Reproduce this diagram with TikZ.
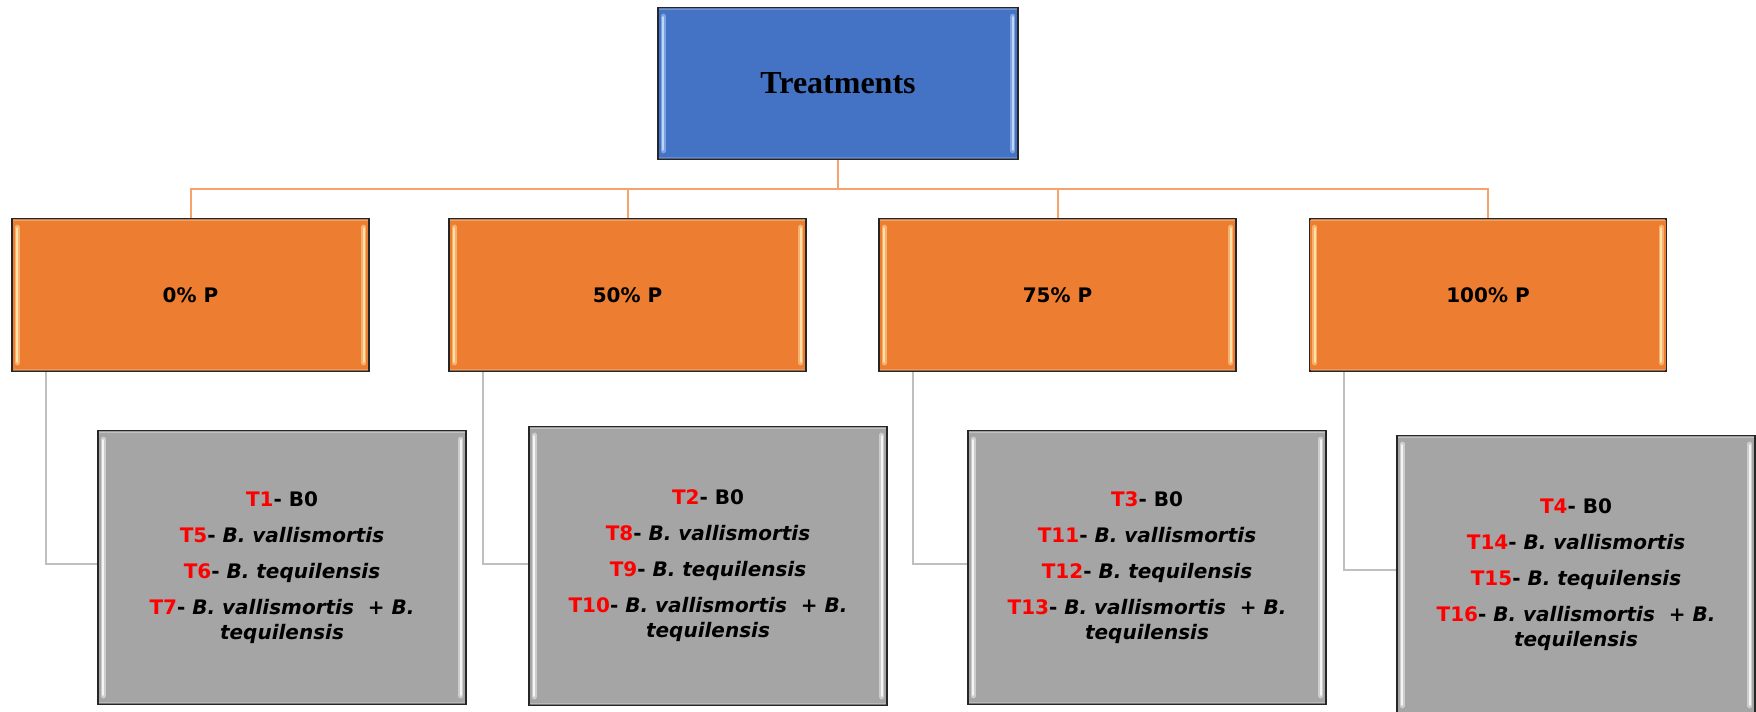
\documentclass[tikz,border=0pt]{standalone}
\usepackage{fontspec}
\setmainfont{DejaVu Sans}[BoldFont={DejaVu Sans Bold},ItalicFont={DejaVu Sans Oblique},BoldItalicFont={DejaVu Sans Bold Oblique}]
\newfontfamily\serifb{Liberation Serif}
\usetikzlibrary{calc}
\definecolor{blueF}{HTML}{4472C4}
\definecolor{orangeF}{HTML}{ED7D31}
\definecolor{grayF}{HTML}{A5A5A5}
\definecolor{blueH}{HTML}{BCD6F7}
\definecolor{blueM}{HTML}{7FA3E0}
\definecolor{orangeH}{HTML}{FFE2A6}
\definecolor{orangeM}{HTML}{F6B070}
\definecolor{grayH}{HTML}{F4F4F4}
\definecolor{grayM}{HTML}{CDCDCD}
\definecolor{oline}{HTML}{F4A36C}
\definecolor{gline}{HTML}{BFBFBF}
\definecolor{tred}{HTML}{FF0000}
\newcommand\tr[1]{\textcolor{tred}{#1}}
\newcommand\bevelbox[3]{%
  \draw[line width=1pt,#3,opacity=0.7] ($(#1.north west)+(2,2)$) -- ($(#1.north east)+(-2,2)$);
  \draw[line width=1pt,#3,opacity=0.5] ($(#1.south west)+(2,-2)$) -- ($(#1.south east)+(-2,-2)$);
  \draw[line width=2.6pt,#3,line cap=round] ($(#1.north west)+(6,9)$) -- ($(#1.south west)+(6,-9)$);
  \draw[line width=2.6pt,#3,line cap=round] ($(#1.north east)+(-6,9)$) -- ($(#1.south east)+(-6,-9)$);
  \draw[line width=1.1pt,#2,line cap=round] ($(#1.north west)+(6,10)$) -- ($(#1.south west)+(6,-10)$);
  \draw[line width=1.1pt,#2,line cap=round] ($(#1.north east)+(-6,10)$) -- ($(#1.south east)+(-6,-10)$);
}
\begin{document}
\begin{tikzpicture}[x=0.5pt,y=-0.5pt,
  box/.style={draw=black!85,line width=0.8pt,inner sep=0pt,align=center},
  topbox/.style={box,fill=blueF,minimum width=180pt,minimum height=75.5pt,font=\serifb\bfseries\fontsize{16}{19}\selectfont},
  obox/.style={box,fill=orangeF,minimum width=178.5pt,minimum height=76pt,font=\bfseries\fontsize{10}{12}\selectfont},
  gbox/.style={box,fill=grayF,minimum width=179pt,minimum height=136.5pt,font=\bfseries\fontsize{10}{12.5}\selectfont},
  oc/.style={draw=oline,line width=1pt},
  gc/.style={draw=gline,line width=1pt}]
\useasboundingbox (0,0) rectangle (1756,712);
\clip (0,0) rectangle (1756,712);

\node[topbox] (top) at (838,83.5) {Treatments};
\node[obox] (o1) at (190.5,295) {0\% P};
\node[obox] (o2) at (627.5,295) {50\% P};
\node[obox] (o3) at (1057.5,295) {75\% P};
\node[obox] (o4) at (1488,295) {100\% P};

\node[gbox,minimum width=184pt] (g1) at (282,567.5) {\tr{T1}- B0\\[5.5pt]
\tr{T5}- \textit{B. vallismortis}\\[5.5pt]
\tr{T6}- \textit{B. tequilensis}\\[5.5pt]
\tr{T7}- \textit{B. vallismortis~ + B.}\\
\textit{tequilensis}};
\node[gbox,minimum height=139pt] (g2) at (708,566) {\tr{T2}- B0\\[5.5pt]
\tr{T8}- \textit{B. vallismortis}\\[5.5pt]
\tr{T9}- \textit{B. tequilensis}\\[5.5pt]
\tr{T10}- \textit{B. vallismortis~ + B.}\\
\textit{tequilensis}};
\node[gbox] (g3) at (1147,567.5) {\tr{T3}- B0\\[5.5pt]
\tr{T11}- \textit{B. vallismortis}\\[5.5pt]
\tr{T12}- \textit{B. tequilensis}\\[5.5pt]
\tr{T13}- \textit{B. vallismortis~ + B.}\\
\textit{tequilensis}};
\node[gbox,minimum height=139pt] (g4) at (1576,575) {\tr{T4}- B0\\[5.5pt]
\tr{T14}- \textit{B. vallismortis}\\[5.5pt]
\tr{T15}- \textit{B. tequilensis}\\[5.5pt]
\tr{T16}- \textit{B. vallismortis~ + B.}\\
\textit{tequilensis}};

\bevelbox{top}{blueH}{blueM}
\bevelbox{o1}{orangeH}{orangeM}
\bevelbox{o2}{orangeH}{orangeM}
\bevelbox{o3}{orangeH}{orangeM}
\bevelbox{o4}{orangeH}{orangeM}
\bevelbox{g1}{grayH}{grayM}
\bevelbox{g2}{grayH}{grayM}
\bevelbox{g3}{grayH}{grayM}
\bevelbox{g4}{grayH}{grayM}

\coordinate (bus) at (0,189);
\foreach \n in {o1,o2,o3,o4}{
  \draw[oc] (top.south) -- (top.south |- bus) -| (\n.north);
}
\foreach \n/\g/\d in {o1/g1/-4,o2/g2/-2,o3/g3/-4,o4/g4/-5}{
  \draw[gc] ($(\n.south west)+(35,0)$) |- ($(\g.west)+(0,\d)$);
}
\end{tikzpicture}
\end{document}
